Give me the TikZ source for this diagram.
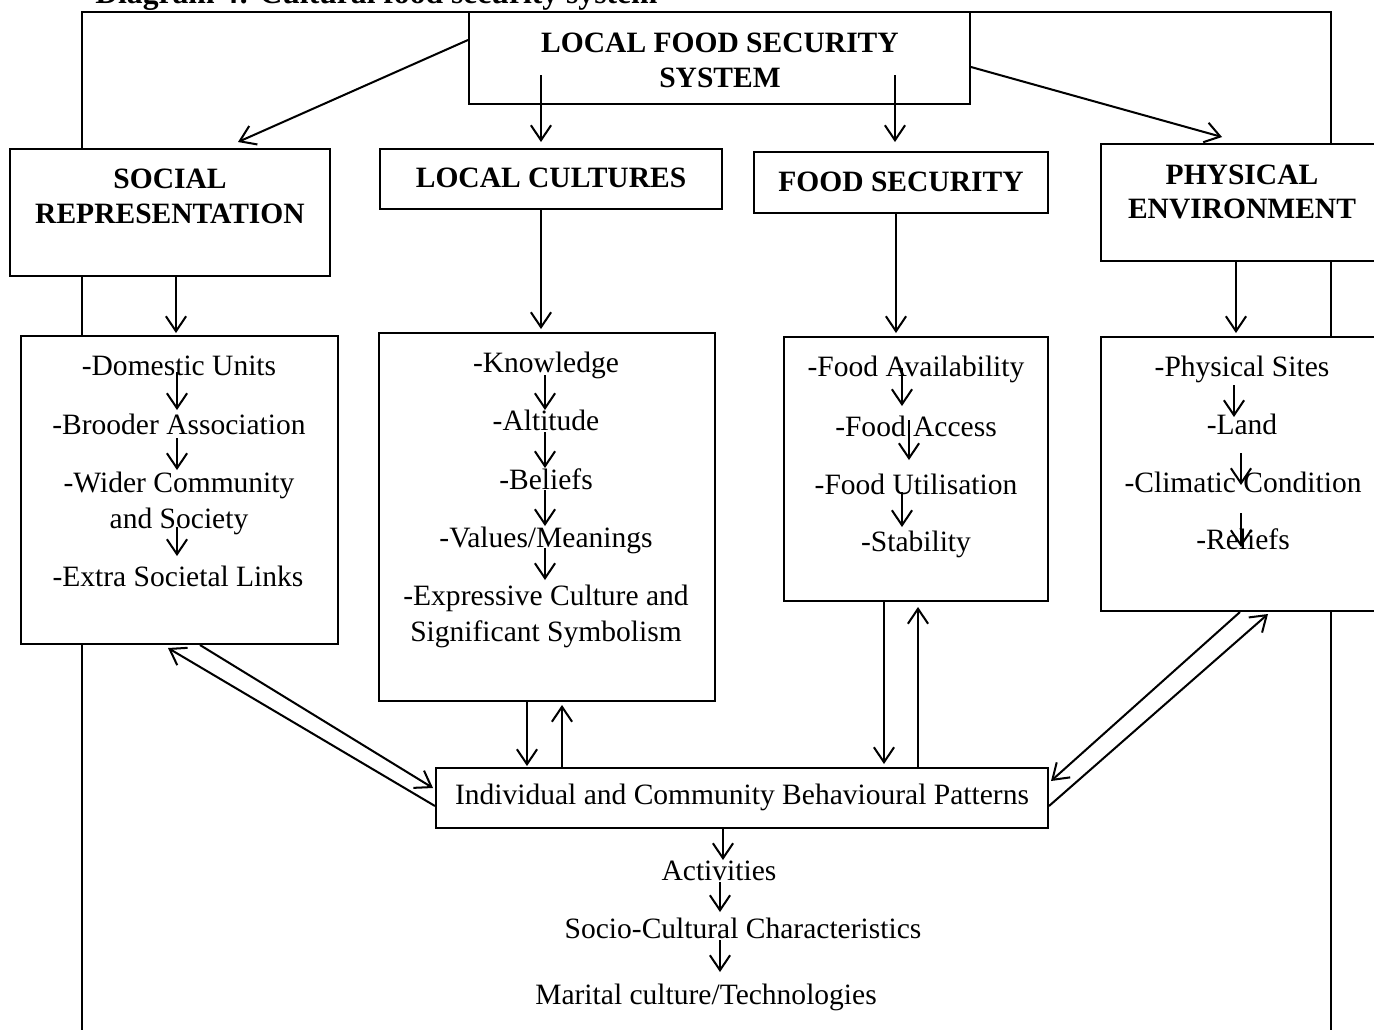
\documentclass[tikz,border=0pt]{standalone}
\usepackage{fontspec}
\setmainfont{Liberation Serif}
\usetikzlibrary{arrows.meta,fit}
\begin{document}
\begin{tikzpicture}[x=0.02cm,y=-0.02cm,
  every node/.style={font=\fontsize{16.8}{20.4}\selectfont},
  box/.style={draw, line width=1.15pt, fill=white, inner sep=0pt},
  head/.style={font=\fontsize{16.8}{19.8}\selectfont\bfseries, align=center, inner sep=0pt},
  item/.style={inner sep=0pt, text height=0.66em, text depth=0.22em},
  arr/.style={line width=1.15pt, -{Straight Barb[length=8.5pt,width=11.5pt,line width=1.15pt]}},
  link/.style={line width=1.15pt}]
\useasboundingbox (0,0) rectangle (1374,1029);

% caption, mostly above the page
\node[anchor=base west, inner sep=0pt, font=\fontsize{18}{20}\selectfont\bfseries]
  (title) at (95,3) {Diagram 4: Cultural food security system};

% enclosing frame
\draw[link] (82,1040) -- (82,12) -- (1331,12) -- (1331,1040);

% top box
\node[box, fit={(469,12)(970,104)}] (lfs) {};
\node[head] (lfst) at (720,60) {LOCAL FOOD SECURITY\\SYSTEM};

% four heading boxes
\node[box, fit={(10,149)(330,276)}] (sr) {};
\node[head] (srt) at (170,196) {SOCIAL\\REPRESENTATION};
\node[box, fit={(380,149)(722,209)}] (lc) {};
\node[head] (lct) at (551,178) {LOCAL CULTURES};
\node[box, fit={(754,152)(1048,213)}] (fs) {};
\node[head] (fst) at (901,182) {FOOD SECURITY};
\node[box, fit={(1101,144)(1385,261)}] (pe) {};
\node[head] (pet) at (1242,192) {PHYSICAL\\ENVIRONMENT};

% list boxes
\node[box, fit={(21,336)(338,644)}] (srl) {};
\node[box, fit={(379,333)(715,701)}] (lcl) {};
\node[box, fit={(784,337)(1048,601)}] (fsl) {};
\node[box, fit={(1101,337)(1385,611)}] (pel) {};

% behaviour box
\node[box, fit={(436,768)(1048,828)}] (ibp) {};
\node[item] (ibpt) at (742,801) {Individual and Community Behavioural Patterns};

% social representation items
\node[item] (s1) at (179,372) {-Domestic Units};
\node[item] (s2) at (179,431) {-Brooder Association};
\node[item] (s3) at (179,489) {-Wider Community};
\node[item] (s4) at (179,525) {and Society};
\node[item] (s5) at (178,583) {-Extra Societal Links};
\draw[arr] (177,372) -- (177,410);
\draw[arr] (177,438) -- (177,470);
\draw[arr] (177,527) -- (177,556);

% local culture items
\node[item] (c1) at (546,369) {-Knowledge};
\node[item] (c2) at (546,427) {-Altitude};
\node[item] (c3) at (546,486) {-Beliefs};
\node[item] (c4) at (546,544) {-Values/Meanings};
\node[item] (c5) at (546,602) {-Expressive Culture and};
\node[item] (c6) at (546,638) {Significant Symbolism};
\draw[arr] (545,375) -- (545,410);
\draw[arr] (545,432) -- (545,468);
\draw[arr] (545,490) -- (545,526);
\draw[arr] (545,548) -- (545,580);

% food security items
\node[item] (f1) at (916,373) {-Food Availability};
\node[item] (f2) at (916,433) {-Food Access};
\node[item] (f3) at (916,491) {-Food Utilisation};
\node[item] (f4) at (916,548) {-Stability};
\draw[arr] (902,368) -- (902,406);
\draw[arr] (909,420) -- (909,460);
\draw[arr] (902,492) -- (902,527);

% physical environment items
\node[item] (p1) at (1242,373) {-Physical Sites};
\node[item] (p2) at (1242,431) {-Land};
\node[item] (p3) at (1243,489) {-Climatic Condition};
\node[item] (p4) at (1243,546) {-Reliefs};
\draw[arr] (1234,385) -- (1234,417);
\draw[arr] (1241,453) -- (1241,485);
\draw[arr] (1241,513) -- (1241,547);

% from the top box
\draw[arr] (lfs.west |- 0,40) -- (238,142);
\draw[arr] (541,75) -- (541,142);
\draw[arr] (895,75) -- (895,142);
\draw[arr] (lfs.east |- 0,67) -- (1222,137);

% heading boxes to their lists
\draw[arr] (sr.south -| 176,0) -- (176,333);
\draw[arr] (lc.south -| 541,0) -- (541,329);
\draw[arr] (fs.south -| 896,0) -- (896,333);
\draw[arr] (pe.south -| 1236,0) -- (1236,333);

% two-way links with the behaviour box
\draw[arr] (srl.south -| 200,0) -- (433,788);
\draw[arr] (ibp.west |- 0,806) -- (168,648);
\draw[arr] (lcl.south -| 527,0) -- (527,766);
\draw[arr] (ibp.north -| 562,0) -- (562,705);
\draw[arr] (fsl.south -| 884,0) -- (884,764);
\draw[arr] (ibp.north -| 918,0) -- (918,607);
\draw[arr] (pel.south -| 1240,0) -- (1051,781);
\draw[arr] (ibp.east |- 0,806) -- (1268,614);

% outcomes
\node[item] (act) at (719,877) {Activities};
\node[item] (soc) at (743,935) {Socio-Cultural Characteristics};
\node[item] (mar) at (706,1001) {Marital culture/Technologies};
\draw[arr] (ibp.south -| 723,0) -- (723,860);
\draw[arr] (720,882) -- (720,912);
\draw[arr] (720,940) -- (720,972);
\end{tikzpicture}
\end{document}
